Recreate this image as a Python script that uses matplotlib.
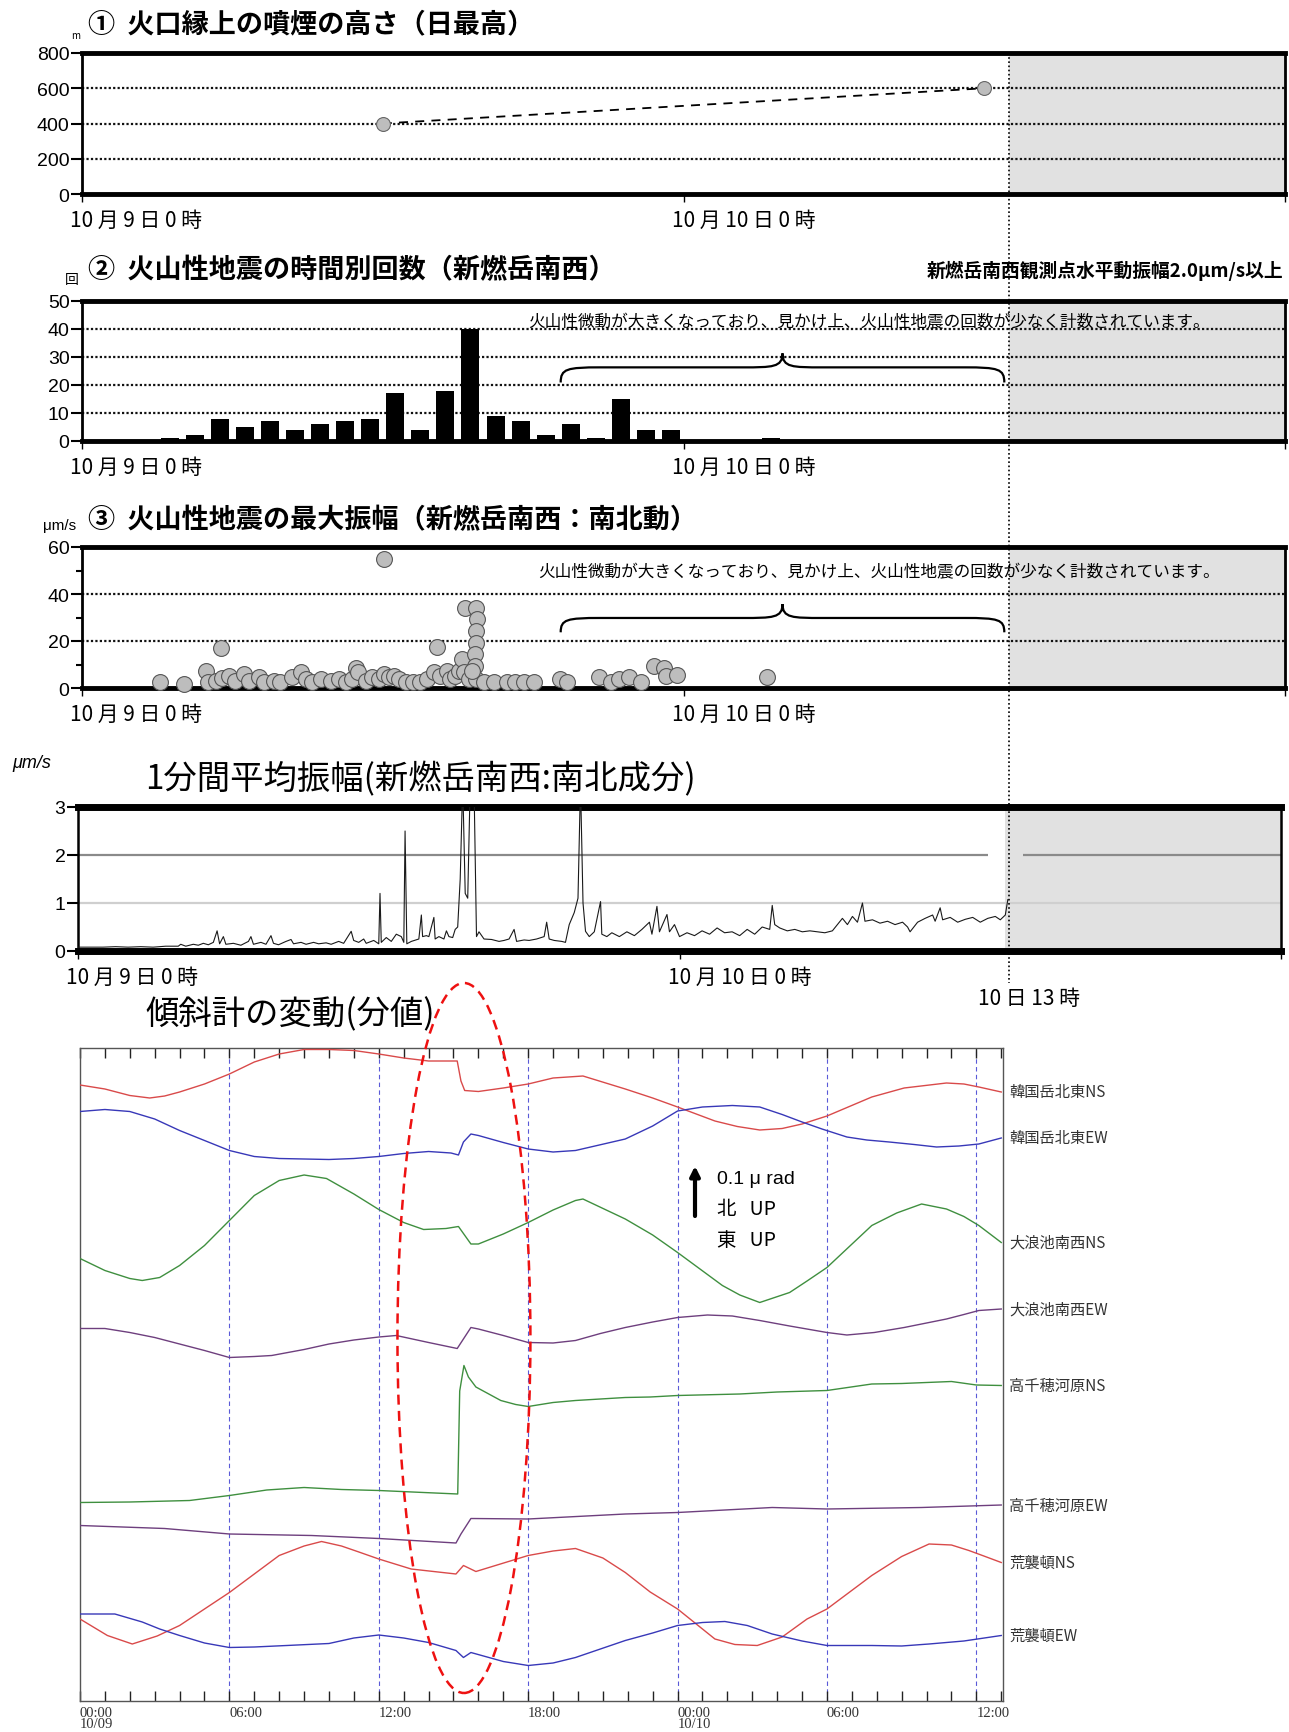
import matplotlib
matplotlib.use('Agg')
import matplotlib.pyplot as plt
from matplotlib.path import Path
from matplotlib.patches import PathPatch, Ellipse
from matplotlib.lines import Line2D
import numpy as np

plt.rcParams['font.family'] = ['Noto Sans CJK JP', 'DejaVu Sans']
plt.rcParams['axes.unicode_minus'] = False
NUM_FONT = ['Liberation Sans Narrow', 'Liberation Sans', 'DejaVu Sans']

# ---------------- data ----------------
day_ticks = [0, 24]
day_labels = ['10 月 9 日 0 時', '10 月 10 日 0 時']
grey_start = 37.0   # 10日13時

# (1) plume height
plume_hours = [12, 36]
plume_height = [400, 600]

# (2) hourly counts of volcanic earthquakes
quake_hours = [3, 4, 5, 6, 7, 8, 9, 10, 11, 12, 13, 14, 15, 16, 17, 18, 19, 20, 21, 22, 23, 27]
quake_counts = [1, 2, 8, 5, 7, 4, 6, 7, 8, 17, 4, 18, 40, 9, 7, 2, 6, 1, 15, 4, 4, 1]

# (3) max amplitude of volcanic earthquakes
amp_hours = [3.10, 4.07, 4.93, 5.03, 5.55, 5.33, 5.60, 5.86, 6.12, 6.48, 6.66, 7.06, 7.26, 7.66,
             7.92, 8.39, 8.72, 8.92, 9.19, 9.52, 9.92, 10.25, 10.52, 10.79, 10.92, 11.03, 11.32,
             11.58, 11.85, 12.05, 12.05, 12.25, 12.45, 12.65, 12.92, 13.2, 13.5, 13.77, 14.16,
             14.03, 14.30, 14.56, 14.70, 14.90, 15.03, 15.16, 15.23, 15.30, 15.43, 15.74, 15.76,
             15.74, 15.74, 15.70, 15.70, 15.74, 15.56, 16.03, 16.43, 16.96, 17.29, 17.63, 18.03,
             19.09, 19.36, 20.62, 21.09, 21.42, 21.82, 22.29, 22.82, 23.22, 23.29, 23.75, 27.35]
amp_values = [2.7, 1.7, 7.3, 2.4, 17.2, 3.1, 4.1, 5.2, 3.1, 5.9, 3.1, 4.5, 2.4, 3.1,
              2.7, 4.5, 6.6, 3.8, 2.4, 3.8, 3.1, 3.8, 2.4, 3.8, 8.7, 6.6, 3.1,
              4.5, 3.8, 55.0, 5.9, 4.5, 5.2, 3.8, 2.7, 2.4, 2.4, 3.8, 17.6,
              6.6, 5.2, 7.3, 3.8, 5.2, 7.3, 12.3, 6.6, 34.1, 3.8, 34.1, 29.2,
              24.2, 19.3, 14.4, 9.4, 3.8, 7.3, 2.4, 2.4, 2.7, 2.7, 2.7, 2.4,
              3.8, 2.7, 4.5, 2.4, 3.8, 4.5, 2.4, 9.4, 8.7, 5.2, 5.5, 4.8]

# (4) 1-minute mean amplitude
rms_hours = [0.0, 0.5, 1.0, 1.5, 2.0, 2.5, 3.0, 3.5, 4.0, 4.1, 4.3, 4.6, 4.8, 5.0, 5.2, 5.4, 5.55,
             5.65, 5.8, 5.9, 6.2, 6.5, 6.8, 6.9, 7.0, 7.3, 7.5, 7.7, 7.8, 8.0, 8.3, 8.5, 8.6, 8.9,
             9.1, 9.4, 9.6, 9.9, 10.1, 10.4, 10.6, 10.9, 11.0, 11.2, 11.4, 11.5, 11.8, 12.0, 12.05,
             12.1, 12.3, 12.5, 12.7, 12.9, 13.0, 13.05, 13.12, 13.3, 13.6, 13.7, 13.75, 13.9, 14.0,
             14.2, 14.25, 14.4, 14.6, 14.7, 14.8, 14.95, 15.05, 15.15, 15.25, 15.35, 15.45, 15.55,
             15.65, 15.8, 15.9, 16.0, 16.2, 16.5, 16.8, 17.0, 17.2, 17.4, 17.5, 17.8, 18.0, 18.3,
             18.6, 18.7, 18.8, 19.0, 19.3, 19.45, 19.6, 19.8, 19.95, 20.05, 20.15, 20.25, 20.4,
             20.6, 20.85, 20.9, 21.1, 21.3, 21.6, 21.9, 22.2, 22.5, 22.8, 22.9, 23.1, 23.2, 23.5,
             23.6, 23.8, 24.0, 24.3, 24.6, 24.9, 25.2, 25.5, 25.8, 26.1, 26.4, 26.7, 27.0, 27.3,
             27.6, 27.7, 27.8, 28.0, 28.3, 28.6, 28.9, 29.2, 29.5, 29.8, 30.1, 30.3, 30.5, 30.7,
             30.9, 31.1, 31.3, 31.4, 31.7, 32.0, 32.3, 32.6, 32.9, 33.1, 33.2, 33.5, 33.8, 34.1,
             34.2, 34.4, 34.5, 34.8, 35.1, 35.4, 35.7, 36.0, 36.3, 36.6, 36.8, 37.0, 37.1]
rms_values = [0.08, 0.08, 0.08, 0.09, 0.08, 0.09, 0.08, 0.10, 0.10, 0.14, 0.10, 0.14, 0.12, 0.16,
              0.13, 0.18, 0.42, 0.15, 0.30, 0.14, 0.16, 0.12, 0.20, 0.30, 0.14, 0.18, 0.14, 0.32,
              0.16, 0.13, 0.20, 0.24, 0.15, 0.18, 0.14, 0.18, 0.15, 0.17, 0.14, 0.20, 0.16, 0.41,
              0.22, 0.18, 0.25, 0.16, 0.22, 0.15, 1.20, 0.18, 0.28, 0.20, 0.35, 0.30, 0.18, 2.50,
              0.15, 0.20, 0.25, 0.75, 0.30, 0.32, 0.30, 0.70, 0.25, 0.30, 0.25, 0.42, 0.30, 0.28,
              0.45, 0.50, 1.50, 3.50, 1.20, 1.10, 3.50, 3.50, 0.30, 0.40, 0.25, 0.24, 0.20, 0.22,
              0.25, 0.45, 0.20, 0.23, 0.22, 0.25, 0.30, 0.60, 0.25, 0.22, 0.20, 0.18, 0.55, 0.80,
              1.10, 3.50, 1.00, 0.41, 0.30, 0.40, 1.03, 0.35, 0.30, 0.38, 0.30, 0.40, 0.32, 0.45,
              0.60, 0.35, 0.93, 0.40, 0.76, 0.40, 0.55, 0.30, 0.38, 0.32, 0.42, 0.35, 0.48, 0.38,
              0.40, 0.32, 0.45, 0.35, 0.50, 0.45, 0.95, 0.55, 0.48, 0.42, 0.45, 0.40, 0.42, 0.40,
              0.38, 0.42, 0.55, 0.68, 0.55, 0.72, 0.60, 1.00, 0.62, 0.65, 0.58, 0.62, 0.55, 0.60,
              0.50, 0.40, 0.60, 0.68, 0.75, 0.62, 0.90, 0.65, 0.70, 0.60, 0.66, 0.70, 0.60, 0.68,
              0.72, 0.65, 0.75, 1.07]

# (5) tiltmeters (relative, unit = 0.01 micro-rad)
tilt_names = ['韓国岳北東NS', '韓国岳北東EW', '大浪池南西NS', '大浪池南西EW',
              '高千穂河原NS', '高千穂河原EW', '荒襲頓NS', '荒襲頓EW']
kar_ns_h = [0, 1, 2, 2.8, 3.4, 4, 5, 6, 7, 8, 9, 10, 11, 12, 13, 14, 15.15, 15.3, 15.45, 16, 17,
            18, 19, 20.2, 21.9, 23, 24, 25.5, 26.4, 27.3, 28.2, 29, 30, 31.8, 33.1, 34.8, 35.5,
            36.1, 37]
kar_ns_v = [123.2, 122.4, 121.1, 120.6, 121.0, 121.8, 123.4, 125.4, 127.8, 129.4, 130.3, 130.3,
            130.1, 129.4, 128.6, 128.0, 128.0, 124.0, 122.1, 121.9, 122.6, 123.4, 124.6, 125.0,
            122.4, 120.6, 118.8, 116.0, 114.9, 114.2, 114.5, 115.4, 117.0, 120.8, 122.6, 123.6,
            123.4, 122.8, 121.8]
kar_ew_h = [0, 1, 2, 3, 4, 5, 6, 7, 8, 9, 10, 11, 12, 13, 14, 14.9, 15.2, 15.4, 15.7, 16, 17, 18,
            19, 19.9, 21.9, 23, 24, 25, 26.2, 27.3, 28.2, 29, 29.8, 30.8, 31.6, 32.5, 33.5, 34.4,
            35.3, 36.1, 37]
kar_ew_v = [117.9, 118.3, 117.9, 116.4, 114.1, 112.1, 110.1, 108.9, 108.5, 108.4, 108.3, 108.5,
            108.9, 109.5, 109.9, 109.6, 109.2, 111.8, 113.4, 113.1, 111.7, 110.4, 109.8, 110.1,
            112.4, 115.0, 118.0, 118.8, 119.1, 118.8, 117.3, 115.8, 114.4, 112.8, 112.2, 111.8,
            111.3, 110.8, 111.0, 111.4, 112.6]
ona_ns_h = [0, 1, 2, 2.5, 3.2, 4, 5, 6, 7, 8, 9, 9.9, 11, 12, 13, 13.8, 14.7, 15.2, 15.7, 16, 17,
            18, 19, 19.9, 20.2, 21.9, 23, 24, 25.8, 26.5, 27.3, 28.5, 29.2, 30, 31.8, 32.8, 33.8,
            34.8, 35.5, 36.1, 37]
ona_ns_v = [88.5, 86.1, 84.5, 84.1, 84.7, 87.1, 91.1, 96.1, 101.1, 104.1, 105.2, 104.5, 101.4,
            98.3, 95.7, 94.3, 94.5, 94.9, 91.4, 91.4, 93.4, 95.7, 98.2, 100.1, 100.4, 96.4, 93.2,
            89.7, 83.1, 81.2, 79.7, 81.7, 84.0, 86.7, 95.1, 97.6, 99.4, 98.4, 96.9, 95.1, 91.7]
ona_ew_h = [0, 1, 2, 3, 4, 5, 5.5, 6, 7, 7.7, 9, 10, 11, 12, 12.7, 14, 15.15, 15.7, 16, 17, 18,
            19, 19.9, 20.9, 21.9, 23, 24, 25.2, 26.2, 27.3, 28.5, 30, 30.8, 31.9, 33.1, 34.8, 35.5,
            36.1, 37]
ona_ew_v = [74.5, 74.5, 73.7, 72.7, 71.4, 70.1, 69.4, 68.7, 68.9, 69.1, 70.3, 71.4, 72.2, 72.8,
            73.1, 71.7, 70.5, 74.7, 74.4, 73.1, 71.7, 71.6, 72.1, 73.5, 74.7, 75.8, 76.7, 77.2,
            77.0, 76.1, 75.0, 73.7, 73.2, 73.7, 74.7, 76.4, 77.3, 78.1, 78.4]
tak_ns_h = [0, 2, 4.4, 6, 7.5, 9, 10.5, 12, 13.8, 15.17, 15.25, 15.42, 15.6, 15.9, 16.9, 17.5, 18,
            19, 19.9, 21.9, 22.9, 24, 26.5, 28, 30, 31.8, 33, 35, 36, 37]
tak_ns_v = [39.7, 39.8, 40.1, 41.1, 42.2, 42.7, 42.3, 42.1, 41.7, 41.4, 62.0, 67.1, 64.8, 62.8,
            60.1, 59.3, 58.9, 59.7, 60.1, 60.7, 60.8, 61.1, 61.4, 61.8, 62.1, 63.4, 63.5, 63.9,
            63.2, 63.1]
tak_ew_h = [0, 3.4, 6, 9.3, 12, 15.1, 15.3, 15.7, 18, 21.9, 24, 27.8, 30, 33.8, 37]
tak_ew_v = [35.1, 34.5, 33.4, 33.1, 32.5, 31.6, 33.4, 36.5, 36.4, 37.4, 37.7, 38.7, 38.4, 38.7, 39.2]
ara_ns_h = [0, 1.1, 2.1, 3.1, 4, 6, 8, 9, 9.7, 10.5, 11.2, 12, 13.3, 15.1, 15.4, 15.9, 18, 19,
            19.9, 21, 21.9, 22.9, 24, 25.5, 26.3, 27.2, 28.2, 29.2, 30, 31.8, 33, 34.1, 35, 35.7,
            36.3, 37]
ara_ns_v = [16.4, 13.1, 11.4, 13.0, 15.1, 21.7, 29.1, 31.0, 31.9, 31.0, 29.8, 28.4, 26.4, 25.4,
            27.1, 25.9, 29.1, 30.0, 30.5, 28.6, 25.7, 21.8, 18.4, 12.4, 11.3, 11.1, 12.8, 16.4,
            18.4, 25.1, 28.9, 31.4, 31.2, 30.1, 29.0, 27.7]
ara_ew_h = [0, 1.4, 2.5, 3.2, 4, 5, 6, 7, 8.3, 10, 11, 12, 13, 14, 15.1, 15.4, 15.7, 17, 18, 19,
            19.9, 20.9, 21.9, 23, 24, 25, 25.9, 26.8, 27.8, 29, 30, 31.8, 33, 34.1, 35.5, 37]
ara_ew_v = [17.4, 17.4, 15.8, 14.4, 13.1, 11.6, 10.7, 10.8, 11.1, 11.5, 12.6, 13.2, 12.6, 11.7,
            10.1, 8.7, 9.7, 7.9, 7.1, 7.6, 8.7, 10.4, 12.1, 13.6, 15.1, 15.7, 15.9, 15.1, 13.4,
            12.0, 11.1, 11.1, 11.0, 11.4, 12.0, 13.1]
tilt_hours = [kar_ns_h, kar_ew_h, ona_ns_h, ona_ew_h, tak_ns_h, tak_ew_h, ara_ns_h, ara_ew_h]
tilt_values = [kar_ns_v, kar_ew_v, ona_ns_v, ona_ew_v, tak_ns_v, tak_ew_v, ara_ns_v, ara_ew_v]
tilt_tick_labels = ['00:00\n10/09', '06:00', '12:00', '18:00', '00:00\n10/10', '06:00', '12:00']

note = '火山性微動が大きくなっており、見かけ上、火山性地震の回数が少なく計数されています。'

# ---------------- layout helpers ----------------
W, H = 1289, 1733
fig = plt.figure(figsize=(W / 100, H / 100), dpi=100)
PX = 0.72


def add_ax(l, t, r, b):
    return fig.add_axes([l / W, 1 - b / H, (r - l) / W, (b - t) / H])


def time_panel(ax, ymax, yticks, grid, minor=None, tb=3.5, lr=2.0, grid_style='dot'):
    ax.set_xlim(0, 48)
    ax.set_ylim(0, ymax)
    ax.axvspan(grey_start, 48, color='#e1e1e1', zorder=0, lw=0)
    if grid_style == 'dot':
        for g in grid:
            ax.axhline(g, color='#111111', lw=1.6, ls=(0, (1, 1)), zorder=1)
    ax.set_yticks(yticks)
    ax.set_yticklabels([str(v) for v in yticks])
    if minor:
        ax.set_yticks(minor, minor=True)
    ax.tick_params(axis='y', which='major', direction='out', length=8, width=1.5, pad=1, labelsize=14)
    ax.tick_params(axis='y', which='minor', direction='out', length=4, width=1.5)
    for lab in ax.get_yticklabels():
        lab.set_family(NUM_FONT)
    ax.set_xticks([0, 24, 48])
    ax.set_xticklabels([])
    ax.tick_params(axis='x', direction='out', length=6, width=1)
    ax.spines['top'].set_linewidth(tb)
    ax.spines['bottom'].set_linewidth(tb)
    ax.spines['left'].set_linewidth(lr)
    ax.spines['right'].set_linewidth(lr)
    for h, lab in zip(day_ticks, day_labels):
        ax.annotate(lab, xy=(h, 0), xycoords=('data', 'axes fraction'),
                    xytext=(-12 * PX, -26 * PX), textcoords='offset points',
                    ha='left', va='center', fontsize=15)


def brace(ax, x0, x1, y_end, y_body, y_peak):
    xc = (x0 + x1) / 2
    d = (x1 - x0) * 0.09
    verts = [(x0, y_end), (x0, y_body - (y_body - y_end) * 0.1), (x0 + d * 0.15, y_body), (x0 + d, y_body),
             (xc - d, y_body),
             (xc - d * 0.25, y_body), (xc, y_body), (xc, y_peak),
             (xc, y_body), (xc + d * 0.25, y_body), (xc + d, y_body),
             (x1 - d, y_body),
             (x1 - d * 0.15, y_body), (x1, y_body - (y_body - y_end) * 0.1), (x1, y_end)]
    codes = [Path.MOVETO, Path.CURVE4, Path.CURVE4, Path.CURVE4, Path.LINETO,
             Path.CURVE4, Path.CURVE4, Path.CURVE4,
             Path.CURVE4, Path.CURVE4, Path.CURVE4, Path.LINETO,
             Path.CURVE4, Path.CURVE4, Path.CURVE4]
    ax.add_patch(PathPatch(Path(verts, codes), fill=False, lw=1.6, color='black', zorder=5))


# ---------------- panel 1 ----------------
ax1 = add_ax(82, 54, 1285, 195)
time_panel(ax1, 800, [0, 200, 400, 600, 800], [200, 400, 600])
ax1.plot(plume_hours, plume_height, ls=(0, (5, 4)), color='black', lw=1.3, zorder=3)
ax1.plot(plume_hours, plume_height, ls='none', marker='o', ms=10, mfc='#bdbdbd', mec='#666666',
         mew=0.8, zorder=4)
fig.text(88 / W, 1 - 24 / H, '①  火口縁上の噴煙の高さ（日最高）', fontsize=19.5, fontweight='bold',
         va='center', ha='left')
fig.text(76 / W, 1 - 36 / H, 'm', fontsize=7, va='center', ha='center')

# ---------------- panel 2 ----------------
ax2 = add_ax(82, 302, 1285, 442)
time_panel(ax2, 50, [0, 10, 20, 30, 40, 50], [10, 20, 30, 40])
ax2.bar([h + 0.5 for h in quake_hours], quake_counts, width=0.72, color='black', zorder=3)
ax2.text(31.4, 42.6, note, fontsize=12, ha='center', va='center', zorder=6)
brace(ax2, 19.1, 36.8, 20.9, 26.3, 31.3)
fig.text(88 / W, 1 - 270 / H, '②  火山性地震の時間別回数（新燃岳南西）', fontsize=19.5, fontweight='bold',
         va='center', ha='left')
fig.text(72 / W, 1 - 280 / H, '回', fontsize=10, va='center', ha='center')
fig.text(1283 / W, 1 - 271 / H, '新燃岳南西観測点水平動振幅2.0μm/s以上', fontsize=13.5,
         fontweight='bold', va='center', ha='right')

# ---------------- panel 3 ----------------
ax3 = add_ax(82, 548, 1285, 689)
time_panel(ax3, 60, [0, 20, 40, 60], [20, 40], minor=[10, 30, 50])
ax3.scatter(amp_hours, amp_values, s=130, c='#bdbdbd', edgecolors='#555555', linewidths=0.8,
            zorder=4, clip_on=False)
ax3.text(31.8, 49.4, note, fontsize=12, ha='center', va='center', zorder=6)
brace(ax3, 19.1, 36.8, 23.7, 29.8, 35.7)
fig.text(88 / W, 1 - 520 / H, '③  火山性地震の最大振幅（新燃岳南西：南北動）', fontsize=19.5,
         fontweight='bold', va='center', ha='left')
fig.text(60 / W, 1 - 526 / H, 'μm/s', fontsize=11, va='center', ha='center', family=NUM_FONT)

# ---------------- panel 4 ----------------
ax4 = add_ax(78, 808, 1281, 952)
time_panel(ax4, 3, [0, 1, 2, 3], [], tb=5, lr=1.8, grid_style='none')
ax4.axhline(1, color='#cfcfcf', lw=1.6, zorder=1)
ax4.hlines(2, 0, 36.3, color='#8a8a8a', lw=1.6, zorder=1)
ax4.hlines(2, 37.7, 48, color='#8a8a8a', lw=1.6, zorder=1)
ax4.plot(rms_hours, rms_values, color='#1a1a1a', lw=0.8, zorder=3)
fig.text(145 / W, 1 - 780 / H, '1分間平均振幅(新燃岳南西:南北成分)', fontsize=24, va='center', ha='left')
fig.text(32 / W, 1 - 764 / H, 'μm/s', fontsize=13, va='center', ha='center', style='italic',
         family=NUM_FONT)

# grey-period separator line (10日13時)
x_sep = (82 + grey_start / 48 * (1285 - 82)) / W
fig.add_artist(Line2D([x_sep, x_sep], [1 - 54 / H, 1 - 984 / H], transform=fig.transFigure,
                      color='black', lw=1.2, ls=(0, (1, 1.5)), zorder=10))
fig.text(978 / W, 1 - 999 / H, '10 日 13 時', fontsize=15, va='center', ha='left')

# ---------------- panel 5 (tilt) ----------------
ax5 = add_ax(80, 1049, 1003, 1702)
ax5.set_xlim(0, 37.07)
ax5.set_ylim(0, 130.6)
tilt_colors = ['#d94a4a', '#3838b8', '#3f8f3f', '#6e3f7e', '#3f8f3f', '#6e3f7e', '#d94a4a', '#3838b8']
for hrs, vals, col, name in zip(tilt_hours, tilt_values, tilt_colors, tilt_names):
    ax5.plot(hrs, vals, color=col, lw=1.0, zorder=3)
    ax5.annotate(name, xy=(1, vals[-1]), xycoords=('axes fraction', 'data'), xytext=(6 * PX, 0),
                 textcoords='offset points', ha='left', va='center', fontsize=11, color='#333333')
for h in [6, 12, 18, 24, 30, 36]:
    ax5.axvline(h, color='#5a5ad8', lw=0.8, ls=(0, (4, 3)), zorder=1)
ax5.set_xticks(range(0, 38))
ax5.set_xticklabels([])
ax5.set_yticks([])
ax5.tick_params(axis='x', direction='in', top=True, bottom=True, length=7, width=1, color='#222222')
for s in ax5.spines.values():
    s.set_linewidth(1.0)
    s.set_color('#555555')
for h, lab in zip([0, 6, 12, 18, 24, 30, 36], tilt_tick_labels):
    ax5.annotate(lab, xy=(h, 0), xycoords=('data', 'axes fraction'), xytext=(0, -5 * PX),
                 textcoords='offset points', ha='left', va='top', fontsize=10.5,
                 family=['Liberation Serif', 'DejaVu Serif'], color='#333333', linespacing=0.85)
ax5.annotate('', xy=(24.7, 107), xytext=(24.7, 97),
             arrowprops=dict(arrowstyle='-|>', lw=3, color='black', mutation_scale=14,
                             shrinkA=0, shrinkB=0))
ax5.text(25.6, 104.6, '0.1 μ rad', fontsize=14, va='center', ha='left',
         family=['Liberation Sans', 'Noto Sans CJK JP'])
ax5.text(25.6, 98.4, '北   UP', fontsize=14, va='center', ha='left',
         family=['Noto Sans CJK JP', 'Liberation Sans'])
ax5.text(25.6, 92.4, '東   UP', fontsize=14, va='center', ha='left',
         family=['Noto Sans CJK JP', 'Liberation Sans'])
ax5.add_patch(Ellipse((15.42, 72.6), width=5.34, height=142, fill=False, ec='#ee1111',
                      lw=1.8, ls=(0, (4, 2.5)), clip_on=False, zorder=6))
fig.text(145 / W, 1 - 1015 / H, '傾斜計の変動(分値)', fontsize=24, va='center', ha='left')

fig.savefig('out.png', dpi=100, facecolor='white')
